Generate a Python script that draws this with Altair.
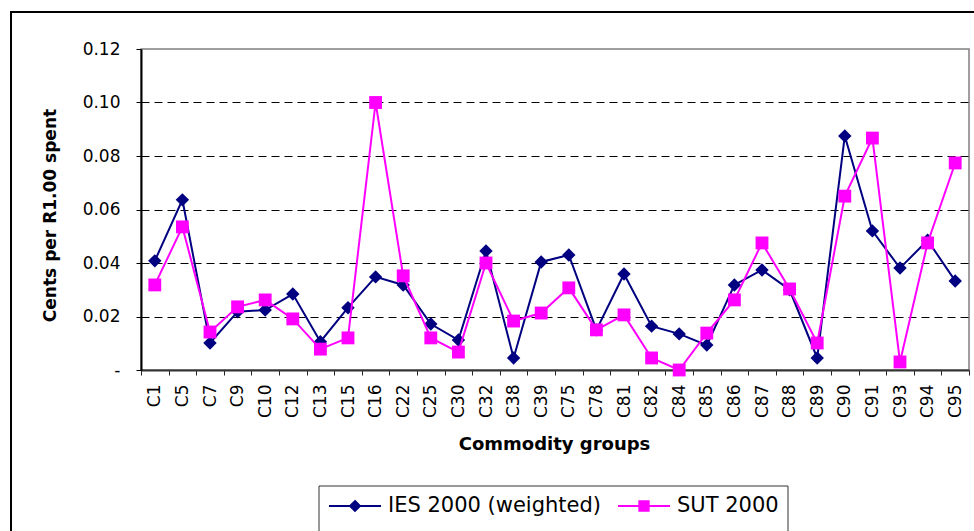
import altair as alt
import pandas as pd

# Commodity groups along the x axis
groups = ["C1", "C5", "C7", "C9", "C10", "C12", "C13", "C15", "C16", "C22",
          "C25", "C30", "C32", "C38", "C39", "C75", "C78", "C81", "C82", "C84",
          "C85", "C86", "C87", "C88", "C89", "C90", "C91", "C93", "C94", "C95"]

# Cents per R1.00 spent, by source
ies_2000 = [0.0408, 0.0636, 0.0101, 0.0218, 0.0224, 0.0284, 0.0106, 0.0233, 0.0348, 0.0318,
            0.0172, 0.0112, 0.0445, 0.0045, 0.0404, 0.0430, 0.0150, 0.0359, 0.0164, 0.0135,
            0.0093, 0.0318, 0.0374, 0.0300, 0.0045, 0.0875, 0.0520, 0.0381, 0.0485, 0.0333]
sut_2000 = [0.0318, 0.0535, 0.0142, 0.0236, 0.0262, 0.0191, 0.0078, 0.0120, 0.1000, 0.0352,
            0.0120, 0.0067, 0.0400, 0.0183, 0.0213, 0.0307, 0.0150, 0.0206, 0.0045, 0.0000,
            0.0138, 0.0262, 0.0475, 0.0303, 0.0101, 0.0650, 0.0867, 0.0030, 0.0475, 0.0774]

series_names = ["IES 2000 (weighted)", "SUT 2000"]
series_colors = ["#000080", "#FF00FF"]
y_ticks = [0.0, 0.02, 0.04, 0.06, 0.08, 0.10, 0.12]

ies_df = pd.DataFrame({"group": groups, "value": ies_2000, "series": series_names[0]})
sut_df = pd.DataFrame({"group": groups, "value": sut_2000, "series": series_names[1]})
all_df = pd.concat([ies_df, sut_df], ignore_index=True)

FONT = "DejaVu Sans"

x_enc = alt.X(
    "group:N",
    sort=groups,
    bandPosition=0.5,
    scale=alt.Scale(type="band", domain=groups, paddingInner=0, paddingOuter=0),
    axis=alt.Axis(
        title="Commodity groups",
        titleFont=FONT, titleFontSize=18, titleFontWeight="bold", titleColor="black",
        titleX=413, titleY=79, titleBaseline="alphabetic", titleAlign="center",
        labelFont=FONT, labelFontSize=17, labelColor="black",
        labelAngle=270, labelAlign="right", labelBaseline="middle", labelPadding=9,
        tickBand="extent", ticks=True, tickSize=5, tickColor="#222222", tickWidth=1,
        domainColor="#333333", domainWidth=2, grid=False, labelOverlap=False,
    ),
)

y_enc = alt.Y(
    "value:Q",
    scale=alt.Scale(domain=[0, 0.12], nice=False, zero=True),
    axis=alt.Axis(
        title="Cents per R1.00 spent",
        titleFont=FONT, titleFontSize=17, titleFontWeight="bold", titleColor="black",
        titleAngle=270, titleX=-91, titleY=166, titleAlign="center", titleBaseline="middle",
        values=y_ticks,
        labelExpr="datum.value == 0 ? '-\u00a0\u00a0\u00a0\u00a0' : format(datum.value, '.2f')",
        labelFont=FONT, labelFontSize=17, labelColor="black", labelPadding=16,
        tickSize=5, tickColor="black", tickWidth=1,
        domainColor="black", domainWidth=2,
        grid=True, gridColor="black", gridWidth=1, gridDash=[8, 5],
        gridOpacity={"condition": {"test": "datum.value > 0.11 || datum.value < 0.01", "value": 0}, "value": 1},
    ),
)

ies_line = alt.Chart(ies_df).mark_line(color=series_colors[0], strokeWidth=2).encode(x=x_enc, y=y_enc)
ies_pts = alt.Chart(ies_df).mark_point(
    shape="diamond", filled=True, color=series_colors[0], size=180, opacity=1
).encode(x=x_enc, y=y_enc)
sut_line = alt.Chart(sut_df).mark_line(color=series_colors[1], strokeWidth=2).encode(x=x_enc, y=y_enc)
sut_pts = alt.Chart(sut_df).mark_point(
    shape="square", filled=True, color=series_colors[1], size=165, opacity=1
).encode(x=x_enc, y=y_enc)

# Legend: line-with-marker symbols drawn as custom paths
legend_paths = [
    "M-1,0H1M0,-0.19L0.19,0L0,0.19L-0.19,0Z",
    "M-1,0H1M-0.18,-0.18H0.18V0.18H-0.18Z",
]
legend_def = alt.Legend(
    title=None, orient="none", legendX=187, legendY=430, direction="horizontal",
    symbolSize=2704, symbolStrokeWidth=2, symbolOpacity=1,
    labelFont=FONT, labelFontSize=21, labelColor="black", labelOffset=6,
    labelLimit=400, columnPadding=12, padding=0,
)
legend_layer = alt.Chart(all_df).transform_filter("datum.value < 0").mark_point(
    filled=True, opacity=1, strokeWidth=2
).encode(
    x=x_enc,
    y=y_enc,
    fill=alt.Fill("series:N", scale=alt.Scale(domain=series_names, range=series_colors), legend=legend_def),
    stroke=alt.Stroke("series:N", scale=alt.Scale(domain=series_names, range=series_colors), legend=legend_def),
    shape=alt.Shape("series:N", scale=alt.Scale(domain=series_names, range=legend_paths), legend=legend_def),
)

# Frames around the whole figure and around the legend
frame_df = pd.DataFrame({"k": [0]})
outer_frame = alt.Chart(frame_df).mark_rect(fill=None, stroke="black", strokeWidth=2).encode(
    x=alt.value(-130), x2=alt.value(900), y=alt.value(-37), y2=alt.value(600)
)
legend_frame = alt.Chart(frame_df).mark_rect(fill=None, stroke="#333333", strokeWidth=1).encode(
    x=alt.value(178), x2=alt.value(647), y=alt.value(437), y2=alt.value(600)
)

chart = alt.layer(
    ies_line, ies_pts, sut_line, sut_pts, legend_layer, outer_frame, legend_frame
).properties(
    width=828, height=321,
    autosize=alt.AutoSizeParams(type="none"),
    padding={"left": 141, "top": 49, "right": 5, "bottom": 161},
    background="white",
).configure_view(
    stroke="#808080", strokeWidth=1.5
)

chart.save("out.html", embed_options={"renderer": "svg", "actions": False})
